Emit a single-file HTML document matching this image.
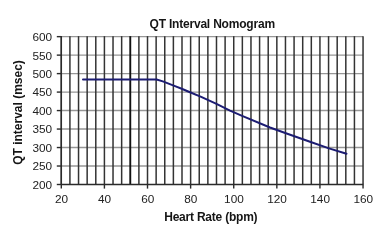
<!DOCTYPE html>
<html><head><meta charset="utf-8"><style>
html,body{margin:0;padding:0;background:#fff;width:388px;height:236px;overflow:hidden}
svg{display:block;filter:blur(0.3px)}
.t{font-family:"Liberation Sans",sans-serif;font-size:11.8px;fill:#222}
.b{font-family:"Liberation Sans",sans-serif;font-weight:bold;fill:#151515}
</style></head><body>
<svg width="388" height="236" viewBox="0 0 388 236" xmlns="http://www.w3.org/2000/svg">
<line x1="61.3" y1="36.65" x2="363.05" y2="36.65" stroke="#969696" stroke-width="1.4"/>
<line x1="61.3" y1="55.13" x2="363.05" y2="55.13" stroke="#969696" stroke-width="1.4"/>
<line x1="61.3" y1="73.61" x2="363.05" y2="73.61" stroke="#969696" stroke-width="1.4"/>
<line x1="61.3" y1="92.09" x2="363.05" y2="92.09" stroke="#969696" stroke-width="1.4"/>
<line x1="61.3" y1="110.57" x2="363.05" y2="110.57" stroke="#969696" stroke-width="1.4"/>
<line x1="61.3" y1="129.06" x2="363.05" y2="129.06" stroke="#969696" stroke-width="1.4"/>
<line x1="61.3" y1="147.54" x2="363.05" y2="147.54" stroke="#969696" stroke-width="1.4"/>
<line x1="61.3" y1="166.02" x2="363.05" y2="166.02" stroke="#969696" stroke-width="1.4"/>
<line x1="56.8" y1="36.65" x2="61.3" y2="36.65" stroke="#2a2a2a" stroke-width="1.4"/>
<line x1="56.8" y1="55.13" x2="61.3" y2="55.13" stroke="#2a2a2a" stroke-width="1.4"/>
<line x1="56.8" y1="73.61" x2="61.3" y2="73.61" stroke="#2a2a2a" stroke-width="1.4"/>
<line x1="56.8" y1="92.09" x2="61.3" y2="92.09" stroke="#2a2a2a" stroke-width="1.4"/>
<line x1="56.8" y1="110.57" x2="61.3" y2="110.57" stroke="#2a2a2a" stroke-width="1.4"/>
<line x1="56.8" y1="129.06" x2="61.3" y2="129.06" stroke="#2a2a2a" stroke-width="1.4"/>
<line x1="56.8" y1="147.54" x2="61.3" y2="147.54" stroke="#2a2a2a" stroke-width="1.4"/>
<line x1="56.8" y1="166.02" x2="61.3" y2="166.02" stroke="#2a2a2a" stroke-width="1.4"/>
<line x1="56.8" y1="184.50" x2="61.3" y2="184.50" stroke="#2a2a2a" stroke-width="1.4"/>
<line x1="61.30" y1="36.15" x2="61.30" y2="184.5" stroke="#333333" stroke-width="1.5"/>
<line x1="69.92" y1="36.15" x2="69.92" y2="184.5" stroke="#333333" stroke-width="1.5"/>
<line x1="78.54" y1="36.15" x2="78.54" y2="184.5" stroke="#333333" stroke-width="1.5"/>
<line x1="87.16" y1="36.15" x2="87.16" y2="184.5" stroke="#333333" stroke-width="1.5"/>
<line x1="95.79" y1="36.15" x2="95.79" y2="184.5" stroke="#333333" stroke-width="1.5"/>
<line x1="104.41" y1="36.15" x2="104.41" y2="184.5" stroke="#333333" stroke-width="1.5"/>
<line x1="113.03" y1="36.15" x2="113.03" y2="184.5" stroke="#333333" stroke-width="1.5"/>
<line x1="121.65" y1="36.15" x2="121.65" y2="184.5" stroke="#333333" stroke-width="1.5"/>
<line x1="130.27" y1="36.15" x2="130.27" y2="184.5" stroke="#111" stroke-width="1.9"/>
<line x1="138.89" y1="36.15" x2="138.89" y2="184.5" stroke="#333333" stroke-width="1.5"/>
<line x1="147.51" y1="36.15" x2="147.51" y2="184.5" stroke="#333333" stroke-width="1.5"/>
<line x1="156.14" y1="36.15" x2="156.14" y2="184.5" stroke="#333333" stroke-width="1.5"/>
<line x1="164.76" y1="36.15" x2="164.76" y2="184.5" stroke="#333333" stroke-width="1.5"/>
<line x1="173.38" y1="36.15" x2="173.38" y2="184.5" stroke="#333333" stroke-width="1.5"/>
<line x1="182.00" y1="36.15" x2="182.00" y2="184.5" stroke="#333333" stroke-width="1.5"/>
<line x1="190.62" y1="36.15" x2="190.62" y2="184.5" stroke="#333333" stroke-width="1.5"/>
<line x1="199.24" y1="36.15" x2="199.24" y2="184.5" stroke="#333333" stroke-width="1.5"/>
<line x1="207.86" y1="36.15" x2="207.86" y2="184.5" stroke="#333333" stroke-width="1.5"/>
<line x1="216.49" y1="36.15" x2="216.49" y2="184.5" stroke="#333333" stroke-width="1.5"/>
<line x1="225.11" y1="36.15" x2="225.11" y2="184.5" stroke="#333333" stroke-width="1.5"/>
<line x1="233.73" y1="36.15" x2="233.73" y2="184.5" stroke="#333333" stroke-width="1.5"/>
<line x1="242.35" y1="36.15" x2="242.35" y2="184.5" stroke="#333333" stroke-width="1.5"/>
<line x1="250.97" y1="36.15" x2="250.97" y2="184.5" stroke="#333333" stroke-width="1.5"/>
<line x1="259.59" y1="36.15" x2="259.59" y2="184.5" stroke="#333333" stroke-width="1.5"/>
<line x1="268.21" y1="36.15" x2="268.21" y2="184.5" stroke="#333333" stroke-width="1.5"/>
<line x1="276.84" y1="36.15" x2="276.84" y2="184.5" stroke="#333333" stroke-width="1.5"/>
<line x1="285.46" y1="36.15" x2="285.46" y2="184.5" stroke="#333333" stroke-width="1.5"/>
<line x1="294.08" y1="36.15" x2="294.08" y2="184.5" stroke="#333333" stroke-width="1.5"/>
<line x1="302.70" y1="36.15" x2="302.70" y2="184.5" stroke="#333333" stroke-width="1.5"/>
<line x1="311.32" y1="36.15" x2="311.32" y2="184.5" stroke="#333333" stroke-width="1.5"/>
<line x1="319.94" y1="36.15" x2="319.94" y2="184.5" stroke="#333333" stroke-width="1.5"/>
<line x1="328.56" y1="36.15" x2="328.56" y2="184.5" stroke="#333333" stroke-width="1.5"/>
<line x1="337.19" y1="36.15" x2="337.19" y2="184.5" stroke="#333333" stroke-width="1.5"/>
<line x1="345.81" y1="36.15" x2="345.81" y2="184.5" stroke="#333333" stroke-width="1.5"/>
<line x1="354.43" y1="36.15" x2="354.43" y2="184.5" stroke="#333333" stroke-width="1.5"/>
<line x1="363.05" y1="36.15" x2="363.05" y2="184.5" stroke="#333333" stroke-width="1.5"/>
<line x1="61.3" y1="184.5" x2="363.55" y2="184.5" stroke="#2a2a2a" stroke-width="1.4"/>
<line x1="61.30" y1="36.15" x2="61.30" y2="188.6" stroke="#2a2a2a" stroke-width="1.4"/>
<line x1="104.41" y1="184.5" x2="104.41" y2="188.6" stroke="#2a2a2a" stroke-width="1.4"/>
<line x1="147.51" y1="184.5" x2="147.51" y2="188.6" stroke="#2a2a2a" stroke-width="1.4"/>
<line x1="190.62" y1="184.5" x2="190.62" y2="188.6" stroke="#2a2a2a" stroke-width="1.4"/>
<line x1="233.73" y1="184.5" x2="233.73" y2="188.6" stroke="#2a2a2a" stroke-width="1.4"/>
<line x1="276.84" y1="184.5" x2="276.84" y2="188.6" stroke="#2a2a2a" stroke-width="1.4"/>
<line x1="319.94" y1="184.5" x2="319.94" y2="188.6" stroke="#2a2a2a" stroke-width="1.4"/>
<line x1="363.05" y1="184.5" x2="363.05" y2="188.6" stroke="#2a2a2a" stroke-width="1.4"/>
<text x="52.2" y="41.05" text-anchor="end" class="t">600</text>
<text x="52.2" y="59.53" text-anchor="end" class="t">550</text>
<text x="52.2" y="78.01" text-anchor="end" class="t">500</text>
<text x="52.2" y="96.49" text-anchor="end" class="t">450</text>
<text x="52.2" y="114.97" text-anchor="end" class="t">400</text>
<text x="52.2" y="133.46" text-anchor="end" class="t">350</text>
<text x="52.2" y="151.94" text-anchor="end" class="t">300</text>
<text x="52.2" y="170.42" text-anchor="end" class="t">250</text>
<text x="52.2" y="188.90" text-anchor="end" class="t">200</text>
<text x="61.50" y="203.3" text-anchor="middle" class="t">20</text>
<text x="104.61" y="203.3" text-anchor="middle" class="t">40</text>
<text x="147.71" y="203.3" text-anchor="middle" class="t">60</text>
<text x="190.82" y="203.3" text-anchor="middle" class="t">80</text>
<text x="233.93" y="203.3" text-anchor="middle" class="t">100</text>
<text x="277.04" y="203.3" text-anchor="middle" class="t">120</text>
<text x="320.14" y="203.3" text-anchor="middle" class="t">140</text>
<text x="363.25" y="203.3" text-anchor="middle" class="t">160</text>
<path d="M83.0,79.5 L156.6,79.5 L162.8,81.4 L175.0,86.1 L181.7,88.8 L190.0,92.2 L200.6,96.7 L216.5,103.9 L230.0,110.6 L242.7,116.1 L270.0,127.5 L285.9,133.2 L310.0,141.8 L329.0,148.4 L346.5,153.7" fill="none" stroke="#1c1c72" stroke-width="2.0" stroke-linecap="round" stroke-linejoin="round"/>
<text x="212.2" y="27.5" text-anchor="middle" class="b" style="font-size:12.0px;letter-spacing:-0.2px">QT Interval Nomogram</text>
<text x="210.8" y="221.4" text-anchor="middle" class="b" style="font-size:12.0px;letter-spacing:-0.22px">Heart Rate (bpm)</text>
<text transform="translate(21.6,112.5) rotate(-90)" text-anchor="middle" class="b" style="font-size:12.0px">QT interval (msec)</text>
</svg>
</body></html>
